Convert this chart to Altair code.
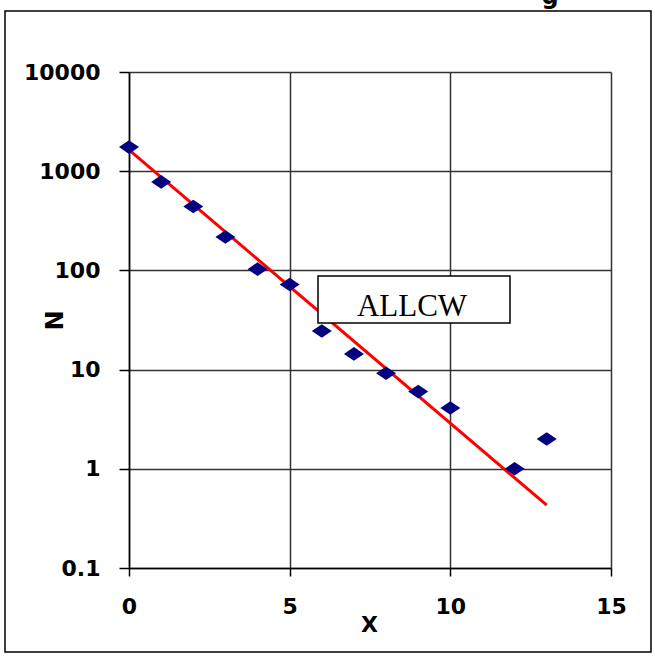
import altair as alt
import pandas as pd

# Data points
x_vals = [0, 1, 2, 3, 4, 5, 6, 7, 8, 9, 10, 12, 13]
n_vals = [1750, 780, 440, 217, 103, 72, 24.5, 14.4, 9.2, 6.0, 4.1, 1.0, 2.0]

# Fitted exponential trend line (end points)
fit_x = [0, 13]
fit_n = [1640, 0.43]

y_ticks = [0.1, 1, 10, 100, 1000, 10000]
x_ticks = [0, 5, 10, 15]

label_text = "ALLCW"
title_tail = "g"

pts = pd.DataFrame({"X": x_vals, "N": n_vals})
fit = pd.DataFrame({"X": fit_x, "N": fit_n})

W, H = 482, 496

xs = alt.Scale(domain=[0, 15], nice=False, zero=False)
ys = alt.Scale(type="log", domain=[0.1, 10000], nice=False)

xaxis = alt.Axis(values=x_ticks, title="X", grid=True, gridColor="#333333", gridWidth=1.5,
                 domainColor="black", domainWidth=1.5, tickColor="black", tickWidth=1.5,
                 tickSize=8, labelFont="DejaVu Sans", labelFontWeight="bold",
                 labelFontSize=22, labelColor="black", labelPadding=20,
                 titleFont="DejaVu Sans", titleFontWeight="bold", titleFontSize=22,
                 titleColor="black", titleX=240, titleY=56, titleBaseline="middle",
                 titleAlign="center", labelFlush=False)
yaxis = alt.Axis(values=y_ticks, title="N", format="~r", grid=True, gridColor="#333333",
                 gridWidth=1.5, domainColor="black", domainWidth=1.5, tickColor="black",
                 tickWidth=1.5, tickSize=10, labelFont="DejaVu Sans", labelFontWeight="bold",
                 labelFontSize=22, labelColor="black", labelPadding=19,
                 titleFont="DejaVu Sans", titleFontWeight="bold", titleFontSize=24,
                 titleColor="black", titleX=-74, titleY=248, titleAngle=-90,
                 titleBaseline="middle", titleAlign="center", labelFlush=False)

line = alt.Chart(fit).mark_line(color="#ff0000", strokeWidth=3).encode(
    x=alt.X("X:Q", scale=xs, axis=xaxis),
    y=alt.Y("N:Q", scale=ys, axis=yaxis),
)

points = alt.Chart(pts).mark_point(
    shape="M -1 0 L 0 -0.68 L 1 0 L 0 0.68 Z", filled=True, color="#000080",
    opacity=1, size=400,
).encode(x=alt.X("X:Q", scale=xs), y=alt.Y("N:Q", scale=ys))

one = alt.Data(values=[{}])

frame = alt.Chart(one).mark_rect(fillOpacity=0, stroke="black", strokeWidth=1.5).encode(
    x=alt.value(-124), x2=alt.value(522), y=alt.value(-61), y2=alt.value(580))

box = alt.Chart(one).mark_rect(fill="white", stroke="black", strokeWidth=1.5).encode(
    x=alt.value(189), x2=alt.value(381), y=alt.value(204), y2=alt.value(251))

box_text = alt.Chart(one).mark_text(
    text=label_text, font="Liberation Serif", fontSize=31, color="black",
    align="center", baseline="alphabetic").encode(x=alt.value(283), y=alt.value(244))

tail = alt.Chart(one).mark_text(
    text=title_tail, font="DejaVu Sans", fontSize=24, fontWeight="bold", color="black",
    align="center", baseline="alphabetic").encode(x=alt.value(421), y=alt.value(-68))

chart = alt.layer(line, points, frame, box, box_text, tail).properties(
    width=W, height=H,
    autosize=alt.AutoSizeParams(type="none"),
    padding={"left": 129, "top": 72, "right": 44, "bottom": 88},
).configure_view(stroke=None).configure(background="white")

chart.save("out.html", embed_options={"renderer": "svg", "actions": False})
